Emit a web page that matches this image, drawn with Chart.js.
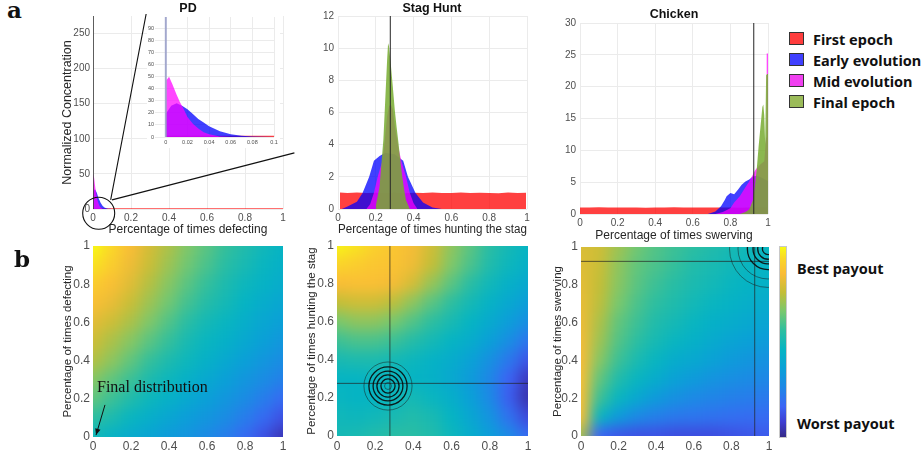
<!DOCTYPE html>
<html>
<head>
<meta charset="utf-8">
<title>Strategy distributions and payoff landscapes</title>
<script src="https://cdn.jsdelivr.net/npm/chart.js@4.4.1/dist/chart.umd.min.js"></script>
<style>
  body { margin: 0; width: 921px; height: 454px; position: relative; overflow: hidden; background: #fff; }
  canvas { position: absolute; }
  .txt { position: absolute; white-space: nowrap; color: #111; }
  .title { font: bold 12.5px "Liberation Sans", Arial, sans-serif; transform: translate(-50%, -50%); }
  .panel { font: bold 23px "DejaVu Serif", serif; line-height: 23px; }
  .legend { position: absolute; left: 789px; top: 28px; width: 140px; white-space: nowrap; font: bold 14.5px "Noto Sans", sans-serif; color: #111; }
  .legend div { height: 21px; display: flex; align-items: center; }
  .legend span { display: inline-block; flex: none; width: 13px; height: 11px; border: 1px solid #333; margin-right: 9px; }
  .cbar { position: absolute; left: 779px; top: 246px; width: 6px; height: 190px; border: 1px solid #c8c8c8; }
  .cblab { font: bold 14.5px "Noto Sans", sans-serif; transform: translateY(-50%); }
  .note { font: 16px "Liberation Serif", serif; line-height: 16px; }
</style>
</head>
<body>
<script>
// ---------- histograms (a) : x = fraction of plays, y = normalized concentration ----------
const pdRedX = [0, 0, 0.2, 0.4, 0.6, 0.8, 1, 1];
const pdRedY = [0, 1, 1, 1, 1, 1, 1, 0];
const pdBlueX = [0, 0.0005, 0.005, 0.01, 0.015, 0.02, 0.025, 0.03, 0.035, 0.04, 0.05, 0.06, 0.07, 0.08, 0.09, 0.1];
const pdBlueY = [0, 20, 26, 28, 26, 23, 19, 15, 12, 9, 4.7, 2.2, 1, 0.5, 0.2, 0];
const pdMagX = [0, 0.0005, 0.003, 0.006, 0.01, 0.013, 0.016, 0.02, 0.025, 0.03, 0.035, 0.04, 0.05, 0.06];
const pdMagY = [0, 47, 50, 44, 35, 29, 24, 16.5, 11, 7, 4, 2.2, 0.5, 0];
const pdFinalAt = 0;          // final epoch collapses onto "never defect"

const stagRedX = [0.01, 0.01, 0.05, 0.1, 0.15, 0.2, 0.25, 0.3, 0.35, 0.4, 0.45, 0.5, 0.55, 0.6, 0.65, 0.7, 0.75, 0.8, 0.85, 0.9, 0.95, 0.995, 0.995];
const stagRedY = [0, 1.02, 1.0, 1.03, 0.99, 1.01, 1.0, 1.02, 0.98, 1.01, 1.0, 1.03, 0.99, 1.0, 1.02, 0.99, 1.01, 1.0, 0.98, 1.02, 1.0, 1.01, 0];
const stagBlueX = [0.02, 0.05, 0.1, 0.13, 0.165, 0.19, 0.22, 0.25, 0.3, 0.345, 0.37, 0.41, 0.45, 0.5, 0.55];
const stagBlueY = [0, 0.15, 0.45, 1.0, 2.0, 3.0, 3.3, 3.5, 3.4, 3.0, 2.0, 1.0, 0.4, 0.1, 0];
const stagMagX = [0.15, 0.17, 0.19, 0.21, 0.235, 0.245, 0.26, 0.27, 0.28, 0.29, 0.3, 0.32, 0.335, 0.36, 0.38, 0.4, 0.42];
const stagMagY = [0, 0.3, 1.0, 2.0, 3.0, 4.0, 5.8, 6.4, 6.5, 6.2, 5.2, 3.8, 3.0, 2.0, 1.0, 0.35, 0];
const stagGreenX = [0.2, 0.22, 0.24, 0.25, 0.26, 0.265, 0.27, 0.28, 0.29, 0.3, 0.31, 0.32, 0.33, 0.34, 0.35, 0.36, 0.38];
const stagGreenY = [0.2, 1.4, 4.3, 6.8, 9.3, 10.3, 10.1, 8.9, 7.6, 6.2, 5.1, 4.1, 3.0, 2.0, 1.2, 0.55, 0];
const stagMean = 0.277;

const chickenRedX = [0, 0, 0.05, 0.1, 0.15, 0.2, 0.25, 0.3, 0.35, 0.4, 0.45, 0.5, 0.55, 0.6, 0.65, 0.7, 0.75, 0.8, 0.85, 0.9, 0.95, 0.995, 0.995];
const chickenRedY = [0, 1.04, 1.02, 1.05, 1.01, 1.03, 1.02, 1.04, 1.0, 1.03, 1.02, 1.05, 1.01, 1.02, 1.04, 1.01, 1.03, 1.02, 1.0, 1.04, 1.02, 1.03, 0];
const chickenBlueX = [0.68, 0.72, 0.75, 0.77, 0.78, 0.8, 0.82, 0.84, 0.86, 0.88, 0.9, 0.92, 0.94, 0.96, 0.98, 1.0, 1.0];
const chickenBlueY = [0, 0.4, 1.2, 2.2, 2.8, 3.3, 3.1, 3.8, 4.6, 5.1, 5.4, 5.9, 6.0, 5.8, 5.5, 5.2, 0];
const chickenMagX = [0.72, 0.76, 0.8, 0.82, 0.85, 0.88, 0.9, 0.92, 0.93, 0.94, 0.96, 0.98, 0.99, 0.993, 1.0, 1.0];
const chickenMagY = [0, 0.3, 0.9, 1.8, 2.8, 4.2, 5.1, 6.2, 6.8, 7.2, 7.8, 8.3, 12, 25.2, 25.2, 0];
const chickenGreenX = [0.85, 0.88, 0.9, 0.92, 0.93, 0.94, 0.95, 0.96, 0.97, 0.975, 0.98, 0.985, 0.99, 0.995, 1.0, 1.0];
const chickenGreenY = [0, 0.3, 0.7, 2.2, 4.3, 7, 10.6, 13.7, 16.8, 17.2, 15.5, 11, 21.8, 22, 22, 0];
const chickenMean = 0.924;

const legendLabels = ['First epoch', 'Early evolution', 'Mid evolution', 'Final epoch'];

// ---------- payoff landscapes (b) : colour level 0 (worst) .. 1 (best) ----------
const heatCols = [0, 0.1, 0.2, 0.3, 0.4, 0.5, 0.6, 0.7, 0.8, 0.9, 1];
const heatRows = [1, 0.9, 0.8, 0.7, 0.6, 0.5, 0.4, 0.3, 0.2, 0.1, 0];
const pdPayoff = [
  [1.00, 0.94, 0.86, 0.79, 0.73, 0.67, 0.62, 0.57, 0.53, 0.49, 0.46],
  [0.96, 0.91, 0.84, 0.77, 0.71, 0.65, 0.60, 0.55, 0.51, 0.47, 0.44],
  [0.91, 0.87, 0.81, 0.74, 0.68, 0.62, 0.57, 0.52, 0.48, 0.45, 0.42],
  [0.87, 0.83, 0.77, 0.71, 0.65, 0.59, 0.54, 0.50, 0.46, 0.42, 0.39],
  [0.82, 0.78, 0.73, 0.67, 0.61, 0.55, 0.50, 0.47, 0.43, 0.39, 0.36],
  [0.78, 0.73, 0.68, 0.62, 0.57, 0.51, 0.47, 0.44, 0.40, 0.36, 0.32],
  [0.74, 0.69, 0.63, 0.57, 0.52, 0.48, 0.44, 0.40, 0.36, 0.32, 0.28],
  [0.68, 0.63, 0.58, 0.52, 0.48, 0.44, 0.40, 0.36, 0.32, 0.28, 0.24],
  [0.63, 0.58, 0.53, 0.48, 0.44, 0.40, 0.36, 0.32, 0.28, 0.23, 0.18],
  [0.56, 0.52, 0.47, 0.43, 0.39, 0.35, 0.32, 0.28, 0.23, 0.18, 0.12],
  [0.49, 0.45, 0.41, 0.38, 0.34, 0.31, 0.27, 0.23, 0.18, 0.12, 0.05]
];
const stagPayoff = [
  [0.99, 0.96, 0.92, 0.89, 0.85, 0.78, 0.69, 0.62, 0.55, 0.50, 0.46],
  [0.93, 0.91, 0.89, 0.88, 0.84, 0.76, 0.67, 0.60, 0.53, 0.48, 0.44],
  [0.86, 0.87, 0.87, 0.85, 0.79, 0.70, 0.62, 0.55, 0.49, 0.44, 0.40],
  [0.76, 0.78, 0.78, 0.75, 0.69, 0.62, 0.56, 0.50, 0.45, 0.40, 0.35],
  [0.66, 0.69, 0.69, 0.66, 0.61, 0.56, 0.51, 0.46, 0.41, 0.35, 0.29],
  [0.58, 0.60, 0.60, 0.58, 0.54, 0.50, 0.46, 0.42, 0.36, 0.29, 0.21],
  [0.51, 0.52, 0.52, 0.50, 0.48, 0.45, 0.42, 0.37, 0.30, 0.22, 0.13],
  [0.46, 0.46, 0.47, 0.47, 0.46, 0.44, 0.40, 0.34, 0.26, 0.16, 0.06],
  [0.47, 0.46, 0.46, 0.48, 0.50, 0.47, 0.43, 0.36, 0.27, 0.15, 0.04],
  [0.49, 0.48, 0.49, 0.51, 0.53, 0.51, 0.46, 0.39, 0.31, 0.20, 0.10],
  [0.50, 0.51, 0.53, 0.55, 0.55, 0.53, 0.48, 0.42, 0.35, 0.27, 0.18]
];
const chickenPayoff = [
  [0.80, 0.78, 0.71, 0.65, 0.61, 0.58, 0.555, 0.53, 0.505, 0.49, 0.47],
  [0.81, 0.77, 0.69, 0.63, 0.60, 0.57, 0.53, 0.51, 0.49, 0.47, 0.455],
  [0.82, 0.76, 0.68, 0.62, 0.58, 0.545, 0.515, 0.495, 0.47, 0.455, 0.44],
  [0.83, 0.75, 0.66, 0.60, 0.56, 0.525, 0.495, 0.47, 0.45, 0.43, 0.41],
  [0.84, 0.73, 0.63, 0.58, 0.53, 0.50, 0.47, 0.44, 0.42, 0.40, 0.38],
  [0.85, 0.71, 0.61, 0.555, 0.505, 0.47, 0.44, 0.41, 0.38, 0.36, 0.34],
  [0.86, 0.68, 0.58, 0.515, 0.47, 0.42, 0.40, 0.37, 0.34, 0.32, 0.30],
  [0.87, 0.63, 0.53, 0.47, 0.42, 0.37, 0.34, 0.31, 0.29, 0.275, 0.26],
  [0.87, 0.58, 0.47, 0.40, 0.34, 0.30, 0.27, 0.255, 0.24, 0.23, 0.22],
  [0.87, 0.47, 0.34, 0.27, 0.24, 0.22, 0.21, 0.20, 0.19, 0.185, 0.18],
  [0.72, 0.16, 0.13, 0.12, 0.12, 0.11, 0.11, 0.11, 0.12, 0.13, 0.14]
];
// final-distribution contour rings (radius in axis units)
const stagPeak = [0.267, 0.263];
const stagRingsBlack = [0.037, 0.058, 0.078, 0.1];
const stagRingsGray = [0.018, 0.126];
const chickenPeak = [0.995, 0.99];
const chickenRingsBlack = [0.03, 0.055, 0.08, 0.11];
const chickenRingsGray = [0.16, 0.205];

// ---------- styling ----------
const SANS = '"Liberation Sans", Arial, Helvetica, sans-serif';
const TICK = '#4f4f4f', LABEL = '#262626', GRID = '#ebebeb';
const RED = 'rgba(255,0,0,0.75)', BLUE = 'rgba(0,0,255,0.75)', MAG = 'rgba(255,0,255,0.72)', GREEN = 'rgba(119,172,48,0.85)';
const legendColors = ['#ff3d3d', '#4040ff', '#f040f0', '#9bbb59'];

const PARULA = [
  [0.00, 53, 42, 135], [0.08, 62, 62, 210], [0.16, 60, 100, 245], [0.26, 30, 135, 230],
  [0.36, 10, 160, 215], [0.46, 5, 180, 195], [0.56, 45, 190, 160], [0.66, 120, 200, 110],
  [0.76, 195, 190, 55], [0.86, 250, 188, 55], [0.94, 250, 215, 40], [1.00, 248, 250, 20]
];
function parula(t) {
  t = Math.max(0, Math.min(1, t));
  for (let k = 1; k < PARULA.length; k++) {
    const [t1, ...c1] = PARULA[k];
    if (t <= t1) {
      const [t0, ...c0] = PARULA[k - 1];
      const f = (t - t0) / (t1 - t0);
      return 'rgb(' + c0.map((c, i) => Math.round(c + f * (c1[i] - c))).join(',') + ')';
    }
  }
}

function pts(xs, ys) { return xs.map((x, i) => ({ x, y: ys[i] })); }

function hist(xs, ys, color, order) {
  return { data: pts(xs, ys), backgroundColor: color, borderColor: 'rgba(0,0,0,0)', borderWidth: 0, pointRadius: 0, fill: 'origin', order };
}
function stem(xv, top, color, width) {
  return { data: [{ x: xv, y: 0 }, { x: xv, y: top }], borderColor: color, borderWidth: width, pointRadius: 0, fill: false, order: 0 };
}
function hline(yv, color) {
  return { data: [{ x: 0, y: yv }, { x: 1, y: yv }], borderColor: color, borderWidth: 1, pointRadius: 0, showLine: true, fill: false };
}
function vline(xv, color) {
  return { data: [{ x: xv, y: 0 }, { x: xv, y: 1 }], borderColor: color, borderWidth: 1, pointRadius: 0, showLine: true, fill: false };
}

function axis(min, max, step, fontSize, pad, title, titleSize, grid) {
  return {
    type: 'linear', min, max,
    grid: { display: grid, color: GRID, drawTicks: false },
    border: { display: false },
    ticks: {
      stepSize: step, includeBounds: false, autoSkip: false, maxRotation: 0, padding: pad, color: TICK,
      font: { family: SANS, size: fontSize }, callback: v => String(+v.toFixed(3))
    },
    title: { display: !!title, text: title || '', color: LABEL, font: { family: SANS, size: titleSize || 12 }, padding: 4 }
  };
}

// f = plot area in page pixels + room for the axes
function mount(f, type, datasets, scales, plugins, bg) {
  const c = document.createElement('canvas');
  const w = f.pr - f.pl + f.yw + f.padRight, h = f.pb - f.pt + f.padTop + f.xh;
  c.width = w; c.height = h;
  c.style.left = (f.pl - f.yw) + 'px';
  c.style.top = (f.pt - f.padTop) + 'px';
  c.style.width = w + 'px'; c.style.height = h + 'px';
  if (bg) c.style.background = bg;
  document.body.appendChild(c);
  scales.x.afterFit = s => { s.height = f.xh; s.paddingLeft = 0; s.paddingRight = 0; };
  scales.y.afterFit = s => { s.width = f.yw; s.paddingTop = 0; s.paddingBottom = 0; };
  return new Chart(c, {
    type,
    data: { datasets },
    options: {
      responsive: false, animation: false, events: [],
      layout: { autoPadding: false, padding: { top: f.padTop, right: f.padRight, left: 0, bottom: 0 } },
      plugins: { legend: { display: false }, tooltip: { enabled: false } },
      scales
    },
    plugins: plugins || []
  });
}

// zoom circle and guide lines from PD main plot to its inset
const zoomMarks = {
  id: 'zoomMarks',
  afterDraw(chart) {
    const { ctx, scales: { x, y } } = chart;
    const px = v => x.getPixelForValue(v), py = v => y.getPixelForValue(v);
    ctx.save();
    ctx.strokeStyle = '#111';
    ctx.lineWidth = 1.1;
    ctx.beginPath();
    ctx.arc(px(0.03), py(-6), 16, 0, 2 * Math.PI);
    ctx.stroke();
    ctx.beginPath();
    ctx.moveTo(px(0.093), py(13)); ctx.lineTo(px(0.284), py(284));
    ctx.moveTo(px(0.1), py(13)); ctx.lineTo(px(1.06), py(80));
    ctx.stroke();
    ctx.restore();
  }
};

function heatLayer(grid) {
  return {
    id: 'heat',
    beforeDatasetsDraw(chart) {
      const { ctx, chartArea: a, scales: { x, y } } = chart;
      const m = 30, off = document.createElement('canvas');
      off.width = Math.ceil(a.width) + 2 * m;
      off.height = Math.ceil(a.height) + 2 * m;
      const o = off.getContext('2d');
      const half = (heatCols[1] - heatCols[0]) / 2;
      grid.forEach((row, i) => row.forEach((v, j) => {
        let x0 = x.getPixelForValue(heatCols[j] - half) - a.left + m;
        let x1 = x.getPixelForValue(heatCols[j] + half) - a.left + m;
        let y0 = y.getPixelForValue(heatRows[i] + half) - a.top + m;
        let y1 = y.getPixelForValue(heatRows[i] - half) - a.top + m;
        if (j === 0) x0 = 0;
        if (j === row.length - 1) x1 = off.width;
        if (i === 0) y0 = 0;
        if (i === grid.length - 1) y1 = off.height;
        o.fillStyle = parula(v);
        o.fillRect(Math.floor(x0), Math.floor(y0), Math.ceil(x1) - Math.floor(x0), Math.ceil(y1) - Math.floor(y0));
      }));
      ctx.save();
      ctx.beginPath();
      ctx.rect(a.left, a.top, a.width, a.height);
      ctx.clip();
      ctx.filter = 'blur(7px)';
      ctx.drawImage(off, a.left - m, a.top - m);
      ctx.restore();
    }
  };
}

function rings(center, black, gray) {
  return {
    id: 'rings',
    afterDatasetsDraw(chart) {
      const { ctx, chartArea: a, scales: { x, y } } = chart;
      const cx = x.getPixelForValue(center[0]), cy = y.getPixelForValue(center[1]);
      const k = x.getPixelForValue(1) - x.getPixelForValue(0);
      ctx.save();
      ctx.beginPath();
      ctx.rect(a.left, a.top, a.width, a.height);
      ctx.clip();
      ctx.strokeStyle = 'rgba(25,25,25,0.55)';
      ctx.lineWidth = 0.9;
      gray.forEach(r => { ctx.beginPath(); ctx.arc(cx, cy, r * k, 0, 2 * Math.PI); ctx.stroke(); });
      ctx.strokeStyle = 'rgba(10,10,10,0.9)';
      ctx.lineWidth = 1.3;
      black.forEach(r => { ctx.beginPath(); ctx.arc(cx, cy, r * k, 0, 2 * Math.PI); ctx.stroke(); });
      ctx.restore();
    }
  };
}

const finalArrow = {
  id: 'finalArrow',
  afterDatasetsDraw(chart) {
    const { ctx, scales: { x, y } } = chart;
    const x0 = x.getPixelForValue(0.063), y0 = y.getPixelForValue(0.168);
    const x1 = x.getPixelForValue(0.016), y1 = y.getPixelForValue(0.01);
    const ang = Math.atan2(y1 - y0, x1 - x0);
    ctx.save();
    ctx.strokeStyle = '#111'; ctx.fillStyle = '#111'; ctx.lineWidth = 1;
    ctx.beginPath(); ctx.moveTo(x0, y0); ctx.lineTo(x1, y1); ctx.stroke();
    ctx.beginPath();
    ctx.moveTo(x1, y1);
    ctx.lineTo(x1 - 7 * Math.cos(ang - 0.4), y1 - 7 * Math.sin(ang - 0.4));
    ctx.lineTo(x1 - 7 * Math.cos(ang + 0.4), y1 - 7 * Math.sin(ang + 0.4));
    ctx.closePath(); ctx.fill();
    ctx.restore();
  }
};

// ---------- row a ----------
mount({ pl: 93, pt: 16, pr: 283, pb: 209, yw: 37, xh: 32, padTop: 2, padRight: 14 }, 'line', [
  hist(pdRedX, pdRedY, RED, 4),
  hist(pdBlueX, pdBlueY, BLUE, 3),
  hist(pdMagX, pdMagY, MAG, 2),
  stem(pdFinalAt, 275, '#2e2e2e', 1.5)
], {
  x: axis(0, 1, 0.2, 10, 3, 'Percentage of times defecting', 12, true),
  y: axis(0, 275, 50, 10, 3, 'Normalized Concentration', 12.5, true)
}, [zoomMarks]);

mount({ pl: 155, pt: 17, pr: 274, pb: 137, yw: 8, xh: 11, padTop: 7, padRight: 6 }, 'line', [
  hist(pdRedX, pdRedY, RED, 4),
  hist(pdBlueX, pdBlueY, BLUE, 3),
  hist(pdMagX, pdMagY, MAG, 2),
  stem(pdFinalAt, 99.5, 'rgba(150,156,200,0.85)', 2)
], {
  x: axis(-0.01, 0.1, 0.02, 5.5, 2, '', 0, true),
  y: axis(0, 99.5, 10, 5.5, 1, '', 0, true)
}, [], '#fff');

mount({ pl: 338, pt: 16, pr: 527, pb: 209, yw: 22, xh: 32, padTop: 8, padRight: 8 }, 'line', [
  hist(stagRedX, stagRedY, RED, 4),
  hist(stagBlueX, stagBlueY, BLUE, 3),
  hist(stagMagX, stagMagY, MAG, 2),
  hist(stagGreenX, stagGreenY, GREEN, 1),
  stem(stagMean, 12, 'rgba(40,40,40,0.85)', 1.2)
], {
  x: axis(0, 1, 0.2, 10, 3, 'Percentage of times hunting the stag', 12, true),
  y: axis(0, 12, 2, 10, 4, '', 0, true)
});

mount({ pl: 580, pt: 23, pr: 768, pb: 214, yw: 22, xh: 33, padTop: 8, padRight: 8 }, 'line', [
  hist(chickenRedX, chickenRedY, RED, 4),
  hist(chickenBlueX, chickenBlueY, BLUE, 3),
  hist(chickenMagX, chickenMagY, MAG, 2),
  hist(chickenGreenX, chickenGreenY, GREEN, 1),
  stem(chickenMean, 30, 'rgba(40,40,40,0.85)', 1.2)
], {
  x: axis(0, 1, 0.2, 10, 3, 'Percentage of times swerving', 12, true),
  y: axis(0, 30, 5, 10, 4, '', 0, true)
});

// ---------- row b ----------
mount({ pl: 93, pt: 246, pr: 283, pb: 437, yw: 36, xh: 17, padTop: 8, padRight: 8 }, 'scatter', [], {
  x: axis(0, 1, 0.2, 12, 2, '', 0, false),
  y: axis(0, 1, 0.2, 12, 3, 'Percentage of times defecting', 11.5, false)
}, [heatLayer(pdPayoff), finalArrow]);

mount({ pl: 337, pt: 246, pr: 528, pb: 436, yw: 36, xh: 18, padTop: 8, padRight: 8 }, 'scatter', [
  vline(stagMean, 'rgba(35,35,35,0.7)'),
  hline(stagMean, 'rgba(35,35,35,0.7)')
], {
  x: axis(0, 1, 0.2, 12, 3, '', 0, false),
  y: axis(0, 1, 0.2, 12, 3, 'Percentage of times hunting the stag', 11.5, false)
}, [heatLayer(stagPayoff), rings(stagPeak, stagRingsBlack, stagRingsGray)]);

mount({ pl: 581, pt: 247, pr: 769, pb: 436, yw: 34, xh: 18, padTop: 8, padRight: 8 }, 'scatter', [
  vline(chickenMean, 'rgba(35,35,35,0.7)'),
  hline(chickenMean, 'rgba(35,35,35,0.7)')
], {
  x: axis(0, 1, 0.2, 12, 3, '', 0, false),
  y: axis(0, 1, 0.2, 12, 3, 'Percentage of times swerving', 11.5, false)
}, [heatLayer(chickenPayoff), rings(chickenPeak, chickenRingsBlack, chickenRingsGray)]);

// ---------- text, legend, colour bar ----------
function text(cls, str, left, top) {
  const d = document.createElement('div');
  d.className = 'txt ' + cls;
  d.textContent = str;
  d.style.left = left + 'px';
  d.style.top = top + 'px';
  document.body.appendChild(d);
  return d;
}
text('panel', 'a', 7, -2);
text('panel', 'b', 14, 247);
text('title', 'PD', 188, 8);
text('title', 'Stag Hunt', 432, 8);
text('title', 'Chicken', 674, 14);
text('note', 'Final distribution', 97, 379);

const leg = document.createElement('div');
leg.className = 'legend';
legendLabels.forEach((lab, i) => {
  const row = document.createElement('div');
  const sw = document.createElement('span');
  sw.style.background = legendColors[i];
  row.appendChild(sw);
  row.appendChild(document.createTextNode(lab));
  leg.appendChild(row);
});
document.body.appendChild(leg);

const cb = document.createElement('div');
cb.className = 'cbar';
cb.style.background = 'linear-gradient(to top, ' + PARULA.map(s => parula(s[0]) + ' ' + (s[0] * 100) + '%').join(', ') + ')';
document.body.appendChild(cb);
text('cblab', 'Best payout', 797, 268);
text('cblab', 'Worst payout', 797, 423);
</script>
</body>
</html>
